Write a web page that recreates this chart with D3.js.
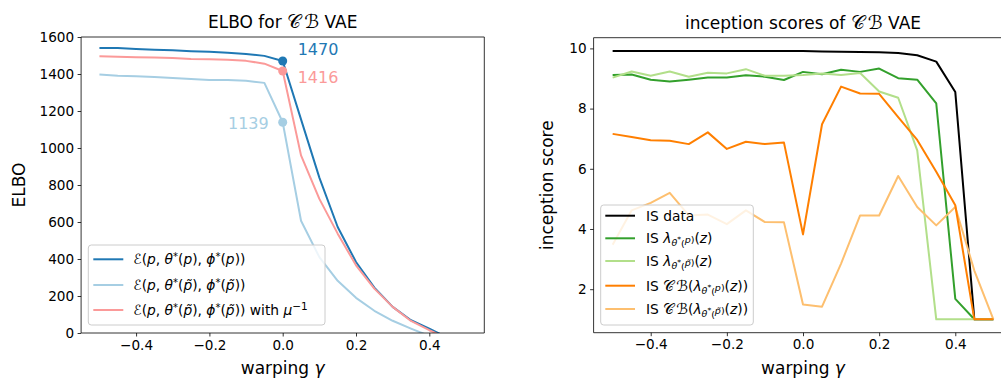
<!DOCTYPE html>
<html><head><meta charset="utf-8">
<script src="https://cdn.jsdelivr.net/npm/d3@7/dist/d3.min.js"></script>
<style>
body{margin:0;background:#fff;}
svg{display:block;font-family:"DejaVu Sans",sans-serif;}
</style></head>
<body>
<svg id="chart" width="1001" height="381"></svg>
<script>
// ---------- data ----------
const gammaL = [-0.5,-0.45,-0.4,-0.35,-0.3,-0.25,-0.2,-0.15,-0.1,-0.05,0,0.05,0.1,0.15,0.2,0.25,0.3,0.35,0.4,0.45];
const elboP      = [1540,1540,1535,1531,1528,1523,1520,1515,1508,1498,1470,1155,840,573,384,245,141,69,24,-26];
const elboPtilde = [1397,1390,1388,1384,1378,1373,1368,1367,1363,1352,1139,607,410,282,190,120,66,24,-16,-60];
const elboMu     = [1496,1493,1491,1489,1486,1481,1480,1477,1471,1456,1416,960,725,537,366,240,141,65,15,-30];
const annot = [{v:1470,series:"elboP"},{v:1416,series:"elboMu"},{v:1139,series:"elboPtilde"}];

const gammaR = [-0.5,-0.45,-0.4,-0.35,-0.3,-0.25,-0.2,-0.15,-0.1,-0.05,0,0.05,0.1,0.15,0.2,0.25,0.3,0.35,0.4,0.45,0.5];
const isData    = [9.91,9.91,9.91,9.91,9.91,9.91,9.91,9.91,9.91,9.91,9.91,9.9,9.89,9.88,9.87,9.85,9.77,9.56,8.55,1.0,1.0];
const isLamP    = [9.12,9.13,8.96,8.9,8.96,9.03,9.03,9.11,9.06,8.95,9.22,9.14,9.29,9.22,9.33,9.01,8.96,8.17,1.68,1.0,1.0];
const isLamPt   = [9.03,9.23,9.09,9.23,9.06,9.19,9.17,9.31,9.09,9.09,9.12,9.17,9.12,9.18,8.57,8.36,6.61,1.0,1.0,1.0,1.0];
const isCBP     = [7.16,7.06,6.95,6.93,6.82,7.21,6.66,6.9,6.82,6.87,3.82,7.48,8.73,8.5,8.49,7.72,6.96,5.9,4.79,1.0,1.0];
const isCBPt    = [3.48,4.62,4.87,5.2,4.45,4.48,4.16,4.62,4.23,4.22,1.49,1.42,2.85,4.45,4.45,5.76,4.73,4.12,4.73,2.62,1.0];

const ticksLX = [-0.4,-0.2,0.0,0.2,0.4];
const ticksLY = [0,200,400,600,800,1000,1200,1400,1600];
const ticksRX = [-0.4,-0.2,0.0,0.2,0.4];
const ticksRY = [2,4,6,8,10];

const C = {dblue:"#1f78b4", lblue:"#a6cee3", pink:"#fb9a99", black:"#000000", green:"#33a02c", lgreen:"#b2df8a", orange:"#ff7f00", lorange:"#fdbf6f"};

const svg = d3.select("#chart");

// ---------- helpers ----------
function mathText(g, x, y, parts, size){
  const t = g.append("text").attr("x",x).attr("y",y).attr("font-size",size).attr("fill","#000");
  let cur = 0;
  parts.forEach(p=>{
    const off = p.o||0;
    const ts = t.append("tspan").text(p.t);
    if(off!==cur){ ts.attr("dy", off-cur); cur = off; }
    if(p.i) ts.attr("font-style","italic");
    if(p.s) ts.attr("font-size", p.s);
    if(p.ls) ts.attr("letter-spacing", p.ls);
  });
  return t;
}
function fmt(d){ return d3.format(".1f")(d).replace("-","\u2212"); }

function drawAxes(g, x, y, tx, ty, yfmt, right){
  const [x0,x1] = x.range(), [y0,y1] = y.range();
  const ax = g.append("g").attr("transform",`translate(0,${y0})`)
    .call(d3.axisBottom(x).tickValues(tx).tickSize(3.5).tickPadding(3.5).tickFormat(fmt));
  const ay = g.append("g").attr("transform",`translate(${x0},0)`)
    .call(d3.axisLeft(y).tickValues(ty).tickSize(3.5).tickPadding(3.5).tickFormat(yfmt));
  [ax,ay].forEach(a=>{
    a.select(".domain").remove();
    a.selectAll("line").attr("stroke","#000").attr("stroke-width",0.8);
    a.selectAll("text").attr("font-size",13.6).attr("fill","#000").attr("font-family","DejaVu Sans");
  });
  const sp = g.append("g").attr("stroke","#000").attr("stroke-width",0.8).attr("fill","none");
  sp.append("line").attr("x1",x0).attr("x2",x0).attr("y1",y0).attr("y2",y1);
  sp.append("line").attr("x1",x0).attr("x2",x1).attr("y1",y0).attr("y2",y0);
  sp.append("line").attr("x1",x0).attr("x2",x1).attr("y1",y1).attr("y2",y1);
  if(right) sp.append("line").attr("x1",x1).attr("x2",x1).attr("y1",y0).attr("y2",y1);
}

// ---------- left chart ----------
const xL = d3.scaleLinear().domain([-0.55,0.55]).range([81.1,484.3]);
const yL = d3.scaleLinear().domain([0,1600]).range([333,37]);
const gL = svg.append("g");
svg.append("clipPath").attr("id","clipL").append("rect")
  .attr("x",xL.range()[0]).attr("y",yL.range()[1]).attr("width",xL.range()[1]-xL.range()[0]).attr("height",yL.range()[0]-yL.range()[1]);
const lineL = d3.line().x((d,i)=>xL(gammaL[i])).y(d=>yL(d));
const seriesL = {elboP:{d:elboP,c:C.dblue}, elboPtilde:{d:elboPtilde,c:C.lblue}, elboMu:{d:elboMu,c:C.pink}};
const plotL = gL.append("g").attr("clip-path","url(#clipL)");
["elboP","elboPtilde","elboMu"].forEach(k=>{
  plotL.append("path").datum(seriesL[k].d).attr("d",lineL).attr("fill","none")
    .attr("stroke",seriesL[k].c).attr("stroke-width",2).attr("stroke-linejoin","round");
});
const annOff = {elboP:[15,-6,"start"], elboMu:[15,12,"start"], elboPtilde:[-14,7,"end"]};
annot.forEach(a=>{
  gL.append("circle").attr("cx",xL(0)).attr("cy",yL(a.v)).attr("r",4.5).attr("fill",seriesL[a.series].c);
});
annot.forEach(a=>{
  const c = seriesL[a.series].c, o = annOff[a.series];
  gL.append("text").attr("x",xL(0)+o[0]).attr("y",yL(a.v)+o[1]).attr("text-anchor",o[2])
    .attr("font-size",16).attr("fill",c).text(a.v);
});
drawAxes(gL, xL, yL, ticksLX, ticksLY, d3.format("d"), true);
const CBt = [{t:"\uD835\uDC9E", s:19, ls:3},{t:"\u212C", s:19}];
mathText(gL, 0, 27.5, [{t:"ELBO for "}].concat(CBt,[{t:" VAE"}]), 17)
  .attr("x",(xL.range()[0]+xL.range()[1])/2).attr("text-anchor","middle");
mathText(gL, (xL.range()[0]+xL.range()[1])/2, 374, [{t:"warping "},{t:"\u03B3",i:1}], 17).attr("text-anchor","middle");
gL.append("text").attr("transform",`translate(25,${(yL.range()[0]+yL.range()[1])/2}) rotate(-90)`)
  .attr("text-anchor","middle").attr("font-size",17).text("ELBO");

// left legend
const lgL = gL.append("g");
lgL.append("rect").attr("x",88.3).attr("y",245).attr("width",236.7).attr("height",80).attr("rx",3)
  .attr("fill","#fff").attr("fill-opacity",0.8).attr("stroke","#cccccc").attr("stroke-width",1);
const legL = [
  {c:C.dblue, parts:[{t:"\u2130("},{t:"p",i:1},{t:", "},{t:"\u03B8",i:1},{t:"*",o:-4,s:10},{t:"(",o:0},{t:"p",i:1},{t:"), "},{t:"\u03D5",i:1},{t:"*",o:-4,s:10},{t:"(",o:0},{t:"p",i:1},{t:"))"}]},
  {c:C.lblue, parts:[{t:"\u2130("},{t:"p",i:1},{t:", "},{t:"\u03B8",i:1},{t:"*",o:-4,s:10},{t:"(",o:0},{t:"p\u0303",i:1},{t:"), "},{t:"\u03D5",i:1},{t:"*",o:-4,s:10},{t:"(",o:0},{t:"p\u0303",i:1},{t:"))"}]},
  {c:C.pink, parts:[{t:"\u2130("},{t:"p",i:1},{t:", "},{t:"\u03B8",i:1},{t:"*",o:-4,s:10},{t:"(",o:0},{t:"p\u0303",i:1},{t:"), "},{t:"\u03D5",i:1},{t:"*",o:-4,s:10},{t:"(",o:0},{t:"p\u0303",i:1},{t:")) with "},{t:"\u03BC",i:1},{t:"\u22121",o:-5,s:10.5}]}
];
const rowsL = [259.3,285,310];
legL.forEach((e,i)=>{
  lgL.append("line").attr("x1",93.3).attr("x2",123.3).attr("y1",rowsL[i]).attr("y2",rowsL[i]).attr("stroke",e.c).attr("stroke-width",2);
  mathText(lgL, 133.3, rowsL[i]+5, e.parts, 13.8);
});

// ---------- right chart ----------
const xR = d3.scaleLinear().domain([-0.55,0.55]).range([593.6,1012.4]);
const yR = d3.scaleLinear().domain([0.5545,10.3555]).range([332.7,37.7]);
const gR = svg.append("g");
const lineR = d3.line().x((d,i)=>xR(gammaR[i])).y(d=>yR(d));
const seriesR = [
  {d:isData,c:C.black},{d:isLamP,c:C.green},{d:isLamPt,c:C.lgreen},{d:isCBPt,c:C.lorange},{d:isCBP,c:C.orange}
];
seriesR.forEach(s=>{
  gR.append("path").datum(s.d).attr("d",lineR).attr("fill","none").attr("stroke",s.c)
    .attr("stroke-width",2).attr("stroke-linejoin","round");
});
drawAxes(gR, xR, yR, ticksRX, ticksRY, d3.format("d"), false);
mathText(gR, 0, 29, [{t:"inception scores of "}].concat(CBt,[{t:" VAE"}]), 17)
  .attr("x",(xR.range()[0]+xR.range()[1])/2).attr("text-anchor","middle");
mathText(gR, (xR.range()[0]+xR.range()[1])/2, 374, [{t:"warping "},{t:"\u03B3",i:1}], 17).attr("text-anchor","middle");
gR.append("text").attr("transform",`translate(553,${(yR.range()[0]+yR.range()[1])/2}) rotate(-90)`)
  .attr("text-anchor","middle").attr("font-size",17).text("inception score");

// right legend
const lgR = gR.append("g");
lgR.append("rect").attr("x",600.7).attr("y",205).attr("width",152.6).attr("height",120).attr("rx",3)
  .attr("fill","#fff").attr("fill-opacity",0.8).attr("stroke","#cccccc").attr("stroke-width",1);
const sub = (tilde)=>[{t:"\u03B8",i:1,o:3,s:9.5},{t:"*",o:-1,s:7.5},{t:"(",o:4,s:9.5},{t:tilde?"p\u0303":"p",i:1,s:9.5},{t:")",s:9.5}];
const CBl = [{t:"\uD835\uDC9E", s:15, ls:2},{t:"\u212C", s:15}];
const legR = [
  {c:C.black, parts:[{t:"IS data"}]},
  {c:C.green, parts:[{t:"IS "},{t:"\u03BB",i:1}].concat(sub(false),[{t:"(",o:0},{t:"z",i:1},{t:")"}])},
  {c:C.lgreen, parts:[{t:"IS "},{t:"\u03BB",i:1}].concat(sub(true),[{t:"(",o:0},{t:"z",i:1},{t:")"}])},
  {c:C.orange, parts:[{t:"IS "}].concat(CBl,[{t:"("},{t:"\u03BB",i:1}],sub(false),[{t:"(",o:0},{t:"z",i:1},{t:"))"}])},
  {c:C.lorange, parts:[{t:"IS "}].concat(CBl,[{t:"("},{t:"\u03BB",i:1}],sub(true),[{t:"(",o:0},{t:"z",i:1},{t:"))"}])}
];
const rowsR = [215.7,238.3,261,285.7,309];
legR.forEach((e,i)=>{
  lgR.append("line").attr("x1",605.3).attr("x2",635).attr("y1",rowsR[i]).attr("y2",rowsR[i]).attr("stroke",e.c).attr("stroke-width",2);
  mathText(lgR, 646, rowsR[i]+5, e.parts, 13.8);
});
</script>
</body></html>
